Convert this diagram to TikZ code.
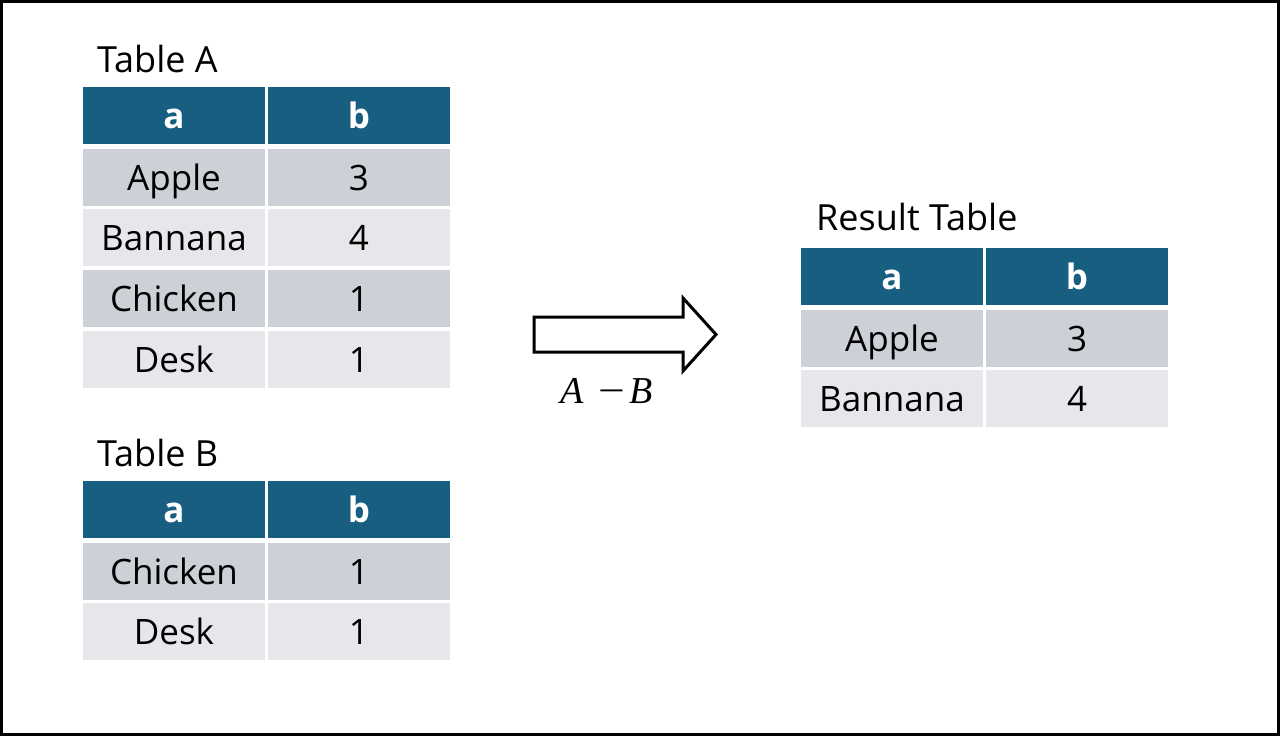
\documentclass[tikz,border=0pt]{standalone}
\usepackage{fontspec}
\setmainfont{Open Sans}
\newfontfamily\mathlike{Liberation Serif}
\usetikzlibrary{shapes.arrows}
\definecolor{hdr}{HTML}{185E80}
\definecolor{rowd}{HTML}{CDD1D7}
\definecolor{rowl}{HTML}{E5E7EA}
\begin{document}
\begin{tikzpicture}[x=1pt,y=-1pt,
  cell/.style={rectangle,inner sep=0pt,minimum width=182pt,minimum height=57pt,
     text height=26pt,text depth=0pt,font=\fontsize{35}{40}\selectfont},
  hcell/.style={cell,fill=hdr,text=white,font=\fontsize{35}{40}\bfseries\selectfont},
  dcell/.style={cell,fill=rowd},
  lcell/.style={cell,fill=rowl},
  ttl/.style={anchor=base west,inner sep=0pt,font=\fontsize{36}{40}\selectfont}]
\useasboundingbox (0,0) rectangle (1280,736);
\draw[line width=3pt] (1.5,1.5) rectangle (1278.5,734.5);
% Table A
\node[ttl] (tA) at (97,72) {Table A};
\node[hcell] (Aha) at (174,115.5) {a};
\node[hcell] (Ahb) at (359,115.5) {b};
\node[dcell] (A1a) at (174,177.5) {Apple};
\node[dcell] (A1b) at (359,177.5) {3};
\node[lcell] (A2a) at (174,237.5) {Bannana};
\node[lcell] (A2b) at (359,237.5) {4};
\node[dcell] (A3a) at (174,298.5) {Chicken};
\node[dcell] (A3b) at (359,298.5) {1};
\node[lcell] (A4a) at (174,359.5) {Desk};
\node[lcell] (A4b) at (359,359.5) {1};
% Table B
\node[ttl] (tB) at (97,466) {Table B};
\node[hcell] (Bha) at (174,509.5) {a};
\node[hcell] (Bhb) at (359,509.5) {b};
\node[dcell] (B1a) at (174,571.5) {Chicken};
\node[dcell] (B1b) at (359,571.5) {1};
\node[lcell] (B2a) at (174,631.5) {Desk};
\node[lcell] (B2b) at (359,631.5) {1};
% Result
\node[ttl] (tR) at (816,230) {Result Table};
\node[hcell] (Rha) at (892,276) {a};
\node[hcell] (Rhb) at (1077,276) {b};
\node[dcell] (R1a) at (892,338.5) {Apple};
\node[dcell] (R1b) at (1077,338.5) {3};
\node[lcell] (R2a) at (892,398.5) {Bannana};
\node[lcell] (R2b) at (1077,398.5) {4};
% arrow
\draw[line width=3pt,line join=miter] (534,317) -- (683,317) -- (683,298) -- (716,334.5)
  -- (683,371) -- (683,352) -- (534,352) -- cycle;
\node[inner sep=0pt,anchor=base,font=\fontsize{38}{42}\mathlike] (op) at (607,403)
  {\itshape A\hspace{14pt}\upshape\scalebox{1.25}[1]{−}\hspace{5pt}\itshape B};
\end{tikzpicture}
\end{document}
